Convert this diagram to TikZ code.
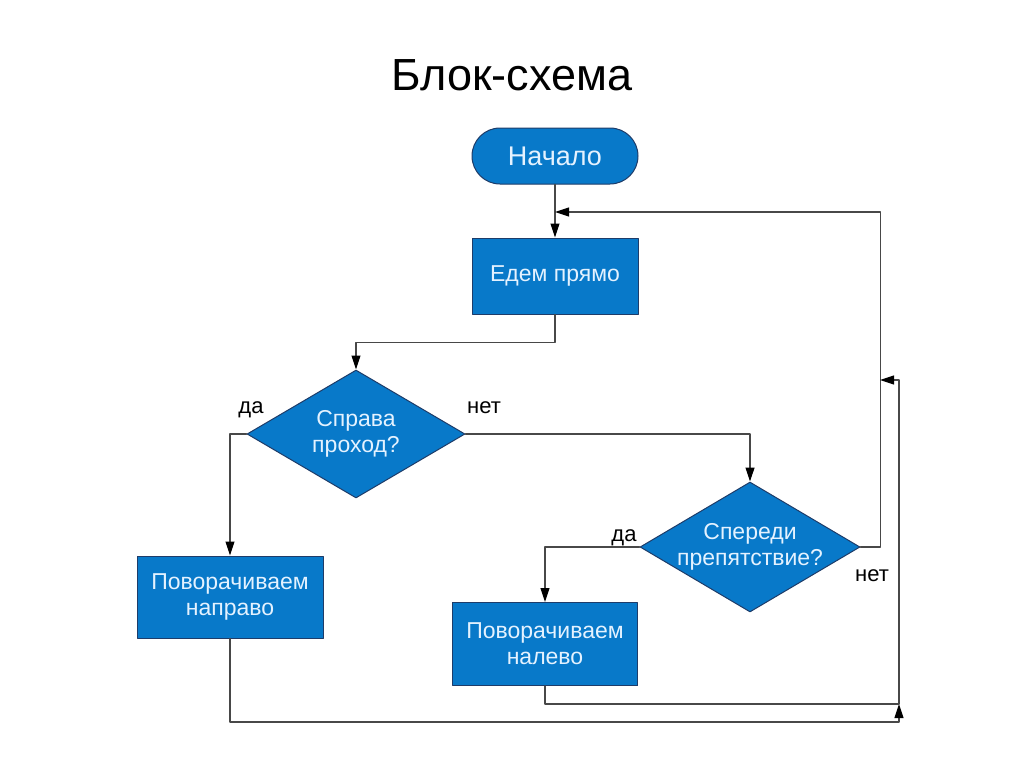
\documentclass[tikz,border=0pt]{standalone}
\usepackage{fontspec}
\setmainfont{Liberation Sans}
\usetikzlibrary{arrows.meta,shapes.geometric,calc}
\definecolor{blockblue}{RGB}{8,121,201}
\definecolor{blockedge}{RGB}{30,60,105}
\definecolor{blocktext}{RGB}{228,242,255}
\definecolor{linegray}{RGB}{72,72,72}
\tikzset{
  block/.style={rectangle,draw=blockedge,line width=1pt,fill=blockblue,text=blocktext,
    font=\fontsize{23}{26}\selectfont,align=center,inner sep=0pt},
  startblock/.style={block,rounded corners=28pt,minimum width=166pt,minimum height=56pt,
    font=\fontsize{27}{30}\selectfont},
  askblock/.style={block,diamond,aspect=1.7,inner sep=-14pt},
  flow/.style={draw=linegray,line width=1.1pt},
  answer/.style={font=\fontsize{22}{24}\selectfont,text=black}
}
\begin{document}
\begin{tikzpicture}[line cap=round,line join=round,>={Triangle[length=14pt,width=9pt,color=black]},x=1pt,y=-1pt]
                \useasboundingbox (0,0) rectangle (1024,768);
                \node (title) at (512,75) {\fontsize{45}{50}\selectfont Блок-схема};
                % blocks
                \node [startblock] (start) at (555,156) {Начало};
                \node [block,minimum width=166pt,minimum height=76pt] (go) at (555,276) {Едем прямо};
                \node [askblock,minimum width=218pt,minimum height=128pt] (qright) at (356,434) {Справа\\проход?};
                \node [askblock,minimum width=220pt,minimum height=130pt] (qfront) at (750,547) {Спереди\\препятствие?};
                \node [block,minimum width=186pt,minimum height=82pt] (turnright) at (230,597) {Поворачиваем\\направо};
                \node [block,minimum width=185pt,minimum height=83pt] (turnleft) at (545,644) {Поворачиваем\\налево};
                \coordinate (loop) at (555,212);
                \coordinate (mergea) at (899,722);
                \coordinate (mergeb) at (899,704);
                \coordinate (back) at (880,380);
                % connectors
                \draw [flow,->] (start) -- (go);
                \draw [flow,->] (go.south) -- ++(0,28) -| (qright.north);
                \draw [flow,->] (qright.west) -| (turnright.north);
                \draw [flow,->] (qright.east) -| (qfront.north);
                \draw [flow,->] (qfront.west) -| (turnleft.north);
                \draw [flow,->] (qfront.east) -- ++(20,0) |- (loop);
                \draw [flow,->] (turnright.south) |- (mergea) -- (mergeb);
                \draw [flow,->] (turnleft.south) |- (mergeb) |- (back);
                % answers
                \node [answer] (yesright) at (251,410) {да};
                \node [answer] (noright) at (484,408) {нет};
                \node [answer] (yesfront) at (624,538) {да};
                \node [answer] (nofront) at (872,576) {нет};
            \end{tikzpicture}
\end{document}
